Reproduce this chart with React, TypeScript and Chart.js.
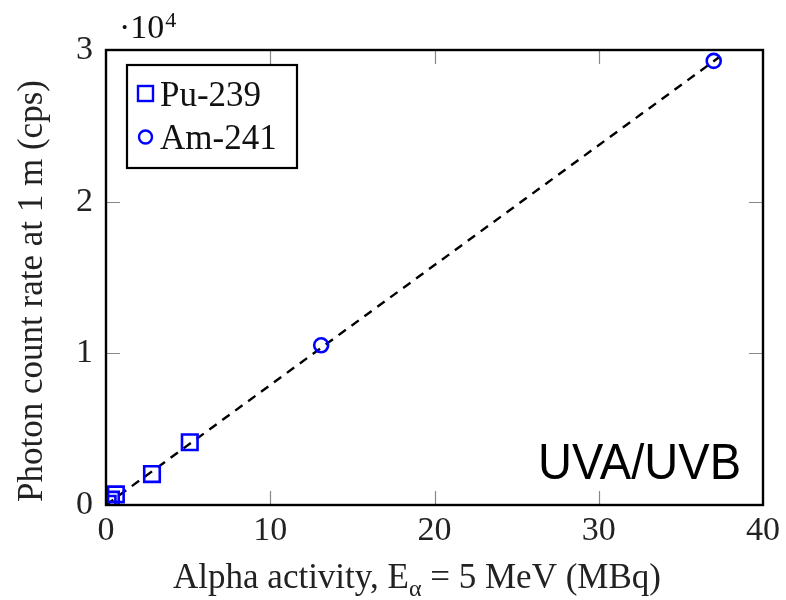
import React, { useEffect, useRef } from "react";
import { Chart, registerables } from "chart.js";

Chart.register(...registerables);

const puX = [0.1, 0.3, 0.6, 2.8, 5.1];
const puY = [80, 350, 700, 2040, 4140];
const amX = [13.1, 37.0];
const amY = [10530, 29280];
const fitX = [0, 37.3];
const fitY = [0, 29500];
const xTicks = [0, 10, 20, 30, 40];
const yTicks = [0, 10000, 20000, 30000];
const seriesNames = ["Pu-239", "Am-241"];
const xTitle = "Alpha activity, E";
const xTitleRest = " = 5 MeV (MBq)";
const yTitle = "Photon count rate at 1 m (cps)";
const annotation = "UVA/UVB";

const SERIF = "'Liberation Serif', 'DejaVu Serif', serif";
const BLUE = "#0000ff";

const framePlugin = {
  id: "frame",
  afterDraw(chart: any) {
    const { ctx, chartArea: a, scales } = chart;
    const xs = scales.x, ys = scales.y;
    ctx.save();
    // inner ticks
    ctx.strokeStyle = "#888";
    ctx.lineWidth = 1.2;
    const tl = 14;
    xTicks.forEach((v) => {
      if (v === xTicks[0] || v === xTicks[xTicks.length - 1]) return;
      const px = Math.round(xs.getPixelForValue(v)) + 0.5;
      ctx.beginPath();
      ctx.moveTo(px, a.bottom);
      ctx.lineTo(px, a.bottom - tl);
      ctx.moveTo(px, a.top);
      ctx.lineTo(px, a.top + tl);
      ctx.stroke();
    });
    yTicks.forEach((v) => {
      if (v === yTicks[0] || v === yTicks[yTicks.length - 1]) return;
      const py = Math.round(ys.getPixelForValue(v)) + 0.5;
      ctx.beginPath();
      ctx.moveTo(a.left, py);
      ctx.lineTo(a.left + tl, py);
      ctx.moveTo(a.right, py);
      ctx.lineTo(a.right - tl, py);
      ctx.stroke();
    });
    // frame
    ctx.strokeStyle = "#000";
    ctx.lineWidth = 2.4;
    ctx.strokeRect(a.left, a.top, a.right - a.left, a.bottom - a.top);

    // exponent label
    ctx.fillStyle = "#111";
    ctx.textBaseline = "alphabetic";
    ctx.textAlign = "left";
    ctx.font = `34px ${SERIF}`;
    ctx.fillText("·10", 119, 38);
    const w = ctx.measureText("·10").width;
    ctx.font = `22px ${SERIF}`;
    ctx.fillText("4", 119 + w + 1, 27);

    // legend box
    const lx = 127, ly = 65, lw = 170, lh = 103;
    ctx.fillStyle = "#fff";
    ctx.fillRect(lx, ly, lw, lh);
    ctx.strokeStyle = "#000";
    ctx.lineWidth = 2.2;
    ctx.strokeRect(lx, ly, lw, lh);
    ctx.strokeStyle = BLUE;
    ctx.lineWidth = 2.4;
    ctx.strokeRect(lx + 11, ly + 21, 15, 15);
    ctx.beginPath();
    ctx.arc(lx + 18.5, ly + 72, 6.5, 0, Math.PI * 2);
    ctx.stroke();
    ctx.fillStyle = "#111";
    ctx.font = `35px ${SERIF}`;
    ctx.textBaseline = "alphabetic";
    ctx.fillText(seriesNames[0], lx + 33, ly + 41);
    ctx.fillText(seriesNames[1], lx + 33, ly + 84);

    // annotation (sans, fitted to width)
    ctx.font = "50px 'Liberation Sans', Arial, sans-serif";
    const aw = ctx.measureText(annotation).width;
    const targetW = 203;
    ctx.save();
    ctx.translate(a.right - 22 - targetW, 479);
    ctx.scale(targetW / aw, 1);
    ctx.textAlign = "left";
    ctx.fillStyle = "#000";
    ctx.fillText(annotation, 0, 0);
    ctx.restore();

    // x title with subscript
    ctx.fillStyle = "#222";
    ctx.font = `35px ${SERIF}`;
    const t1w = ctx.measureText(xTitle).width;
    const t2w = ctx.measureText(xTitleRest).width;
    ctx.font = `24px ${SERIF}`;
    const subw = ctx.measureText("α").width;
    const total = t1w + subw + t2w;
    let sx = 417 - total / 2;
    ctx.textAlign = "left";
    ctx.font = `35px ${SERIF}`;
    ctx.fillText(xTitle, sx, 588);
    sx += t1w;
    ctx.font = `24px ${SERIF}`;
    ctx.fillText("α", sx, 596);
    sx += subw;
    ctx.font = `35px ${SERIF}`;
    ctx.fillText(xTitleRest, sx, 588);

    // y title
    ctx.save();
    ctx.translate(33, 291);
    ctx.rotate(-Math.PI / 2);
    ctx.textAlign = "center";
    ctx.textBaseline = "middle";
    ctx.font = `35px ${SERIF}`;
    ctx.fillText(yTitle, 0, 0);
    ctx.restore();
    ctx.restore();
  },
};

export default function App() {
  const ref = useRef<HTMLCanvasElement>(null);
  useEffect(() => {
    if (!ref.current) return;
    const chart = new Chart(ref.current, {
      type: "scatter",
      data: {
        datasets: [
          {
            label: "fit",
            data: fitX.map((x, i) => ({ x, y: fitY[i] })),
            showLine: true,
            borderColor: "#000",
            borderWidth: 2.4,
            borderDash: [9, 7],
            pointRadius: 0,
            order: 3,
          },
          {
            label: seriesNames[0],
            data: puX.map((x, i) => ({ x, y: puY[i] })),
            pointStyle: "rect",
            pointRadius: 11,
            pointBorderWidth: 2.6,
            borderColor: BLUE,
            backgroundColor: "rgba(0,0,0,0)",
            order: 1,
          },
          {
            label: seriesNames[1],
            data: amX.map((x, i) => ({ x, y: amY[i] })),
            pointStyle: "circle",
            pointRadius: 7,
            pointBorderWidth: 2.6,
            borderColor: BLUE,
            backgroundColor: "rgba(0,0,0,0)",
            order: 2,
          },
        ],
      },
      options: {
        animation: false,
        responsive: false,
        layout: { padding: { top: 50, right: 21, left: 0, bottom: 0 } },
        plugins: { legend: { display: false }, tooltip: { enabled: false } },
        scales: {
          x: {
            type: "linear",
            min: 0,
            max: 40,
            afterBuildTicks: (s: any) => {
              s.ticks = xTicks.map((v) => ({ value: v }));
            },
            afterFit: (s: any) => {
              s.height = 95;
            },
            grid: { display: false, drawTicks: false },
            border: { display: false },
            ticks: {
              color: "#222",
              font: { family: SERIF, size: 34 },
              padding: 6,
              maxRotation: 0,
            },
          },
          y: {
            type: "linear",
            min: 0,
            max: 30000,
            afterBuildTicks: (s: any) => {
              s.ticks = yTicks.map((v) => ({ value: v }));
            },
            afterFit: (s: any) => {
              s.width = 106;
            },
            grid: { display: false, drawTicks: false },
            border: { display: false },
            ticks: {
              color: "#222",
              font: { family: SERIF, size: 34 },
              padding: 13,
              callback: (v: any) => String(Number(v) / 10000),
            },
          },
        },
      },
      plugins: [framePlugin],
    });
    return () => chart.destroy();
  }, []);
  return (
    <div style={{ position: "fixed", left: 0, top: 0, width: 786, height: 600, background: "#fff" }}>
      <canvas ref={ref} width={786} height={600} style={{ width: 786, height: 600 }} />
    </div>
  );
}
